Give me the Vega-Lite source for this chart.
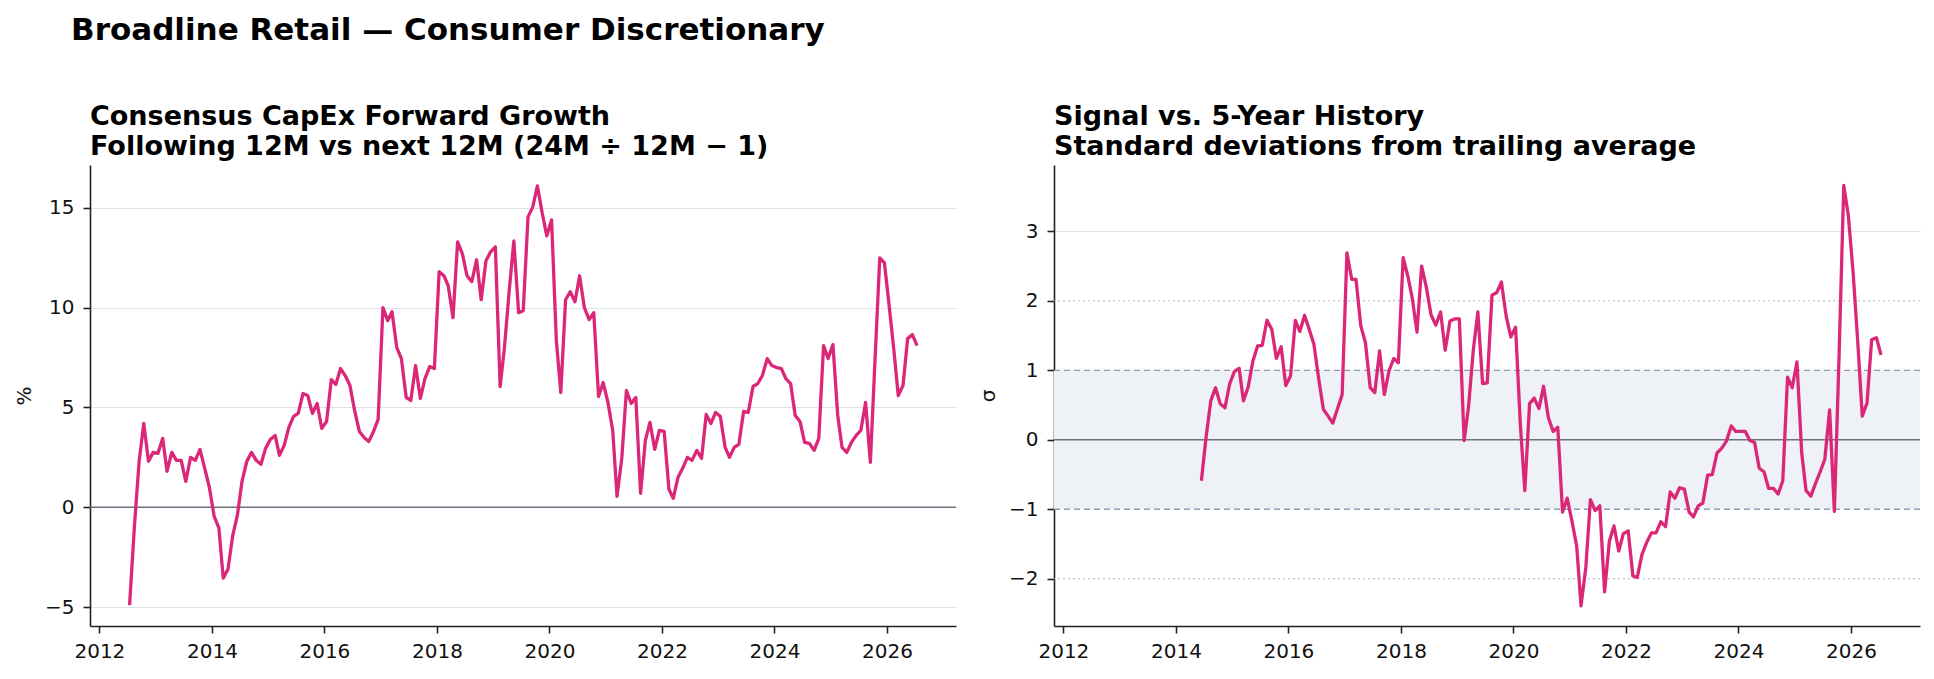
{
  "$schema": "https://vega.github.io/schema/vega-lite/v6.json",
  "background": "white",
  "padding": {"left": 14, "top": 15, "right": 15, "bottom": 5},
  "config": {
    "font": "DejaVu Sans",
    "view": {"stroke": null},
    "axis": {
      "labelFont": "DejaVu Sans",
      "labelFontSize": 20,
      "labelColor": "#111111",
      "titleFont": "DejaVu Sans",
      "titleFontSize": 20,
      "titleFontWeight": "normal",
      "titleColor": "#111111",
      "domainColor": "#222222",
      "domainWidth": 1.6,
      "tickColor": "#222222",
      "tickWidth": 1.6,
      "tickSize": 7,
      "labelPadding": 8,
      "gridColor": "#dfe1e8",
      "gridWidth": 1
    },
    "axisX": {"grid": false},
    "axisY": {"titlePadding": 10, "labelPadding": 9}
  },
  "title": {
    "text": "Broadline Retail — Consumer Discretionary",
    "anchor": "start",
    "frame": "group",
    "fontSize": 31,
    "fontWeight": "bold",
    "color": "#000000",
    "dx": -19,
    "offset": 25,
    "baseline": "bottom"
  },
  "datasets": {
    "capex": [
      {"d": "2012-07-15", "v": -4.9}, {"d": "2012-08-15", "v": -1.0}, {"d": "2012-09-15", "v": 2.3}, {"d": "2012-10-15", "v": 4.2}, {"d": "2012-11-15", "v": 2.3}, {"d": "2012-12-15", "v": 2.75},
      {"d": "2013-01-15", "v": 2.7}, {"d": "2013-02-15", "v": 3.45}, {"d": "2013-03-15", "v": 1.8}, {"d": "2013-04-15", "v": 2.75}, {"d": "2013-05-15", "v": 2.35}, {"d": "2013-06-15", "v": 2.35},
      {"d": "2013-07-15", "v": 1.3}, {"d": "2013-08-15", "v": 2.5}, {"d": "2013-09-15", "v": 2.35}, {"d": "2013-10-15", "v": 2.9}, {"d": "2013-11-15", "v": 1.95}, {"d": "2013-12-15", "v": 1.0},
      {"d": "2014-01-15", "v": -0.45}, {"d": "2014-02-15", "v": -1.05}, {"d": "2014-03-15", "v": -3.55}, {"d": "2014-04-15", "v": -3.1}, {"d": "2014-05-15", "v": -1.45}, {"d": "2014-06-15", "v": -0.4},
      {"d": "2014-07-15", "v": 1.3}, {"d": "2014-08-15", "v": 2.3}, {"d": "2014-09-15", "v": 2.75}, {"d": "2014-10-15", "v": 2.35}, {"d": "2014-11-15", "v": 2.15}, {"d": "2014-12-15", "v": 2.95},
      {"d": "2015-01-15", "v": 3.4}, {"d": "2015-02-15", "v": 3.6}, {"d": "2015-03-15", "v": 2.6}, {"d": "2015-04-15", "v": 3.1}, {"d": "2015-05-15", "v": 4.0}, {"d": "2015-06-15", "v": 4.55},
      {"d": "2015-07-15", "v": 4.7}, {"d": "2015-08-15", "v": 5.7}, {"d": "2015-09-15", "v": 5.6}, {"d": "2015-10-15", "v": 4.7}, {"d": "2015-11-15", "v": 5.2}, {"d": "2015-12-15", "v": 3.95},
      {"d": "2016-01-15", "v": 4.3}, {"d": "2016-02-15", "v": 6.4}, {"d": "2016-03-15", "v": 6.15}, {"d": "2016-04-15", "v": 6.95}, {"d": "2016-05-15", "v": 6.6}, {"d": "2016-06-15", "v": 6.1},
      {"d": "2016-07-15", "v": 4.85}, {"d": "2016-08-15", "v": 3.8}, {"d": "2016-09-15", "v": 3.5}, {"d": "2016-10-15", "v": 3.3}, {"d": "2016-11-15", "v": 3.8}, {"d": "2016-12-15", "v": 4.4},
      {"d": "2017-01-15", "v": 10.0}, {"d": "2017-02-15", "v": 9.35}, {"d": "2017-03-15", "v": 9.8}, {"d": "2017-04-15", "v": 8.0}, {"d": "2017-05-15", "v": 7.45}, {"d": "2017-06-15", "v": 5.5},
      {"d": "2017-07-15", "v": 5.35}, {"d": "2017-08-15", "v": 7.1}, {"d": "2017-09-15", "v": 5.45}, {"d": "2017-10-15", "v": 6.45}, {"d": "2017-11-15", "v": 7.05}, {"d": "2017-12-15", "v": 6.95},
      {"d": "2018-01-15", "v": 11.8}, {"d": "2018-02-15", "v": 11.6}, {"d": "2018-03-15", "v": 11.1}, {"d": "2018-04-15", "v": 9.5}, {"d": "2018-05-15", "v": 13.3}, {"d": "2018-06-15", "v": 12.7},
      {"d": "2018-07-15", "v": 11.6}, {"d": "2018-08-15", "v": 11.3}, {"d": "2018-09-15", "v": 12.4}, {"d": "2018-10-15", "v": 10.4}, {"d": "2018-11-15", "v": 12.35}, {"d": "2018-12-15", "v": 12.8},
      {"d": "2019-01-15", "v": 13.05}, {"d": "2019-02-15", "v": 6.05}, {"d": "2019-03-15", "v": 8.0}, {"d": "2019-04-15", "v": 10.85}, {"d": "2019-05-15", "v": 13.35}, {"d": "2019-06-15", "v": 9.75},
      {"d": "2019-07-15", "v": 9.85}, {"d": "2019-08-15", "v": 14.55}, {"d": "2019-09-15", "v": 15.05}, {"d": "2019-10-15", "v": 16.1}, {"d": "2019-11-15", "v": 14.75}, {"d": "2019-12-15", "v": 13.6},
      {"d": "2020-01-15", "v": 14.4}, {"d": "2020-02-15", "v": 8.35}, {"d": "2020-03-15", "v": 5.75}, {"d": "2020-04-15", "v": 10.4}, {"d": "2020-05-15", "v": 10.8}, {"d": "2020-06-15", "v": 10.3},
      {"d": "2020-07-15", "v": 11.6}, {"d": "2020-08-15", "v": 10.0}, {"d": "2020-09-15", "v": 9.4}, {"d": "2020-10-15", "v": 9.75}, {"d": "2020-11-15", "v": 5.55}, {"d": "2020-12-15", "v": 6.25},
      {"d": "2021-01-15", "v": 5.25}, {"d": "2021-02-15", "v": 3.85}, {"d": "2021-03-15", "v": 0.55}, {"d": "2021-04-15", "v": 2.45}, {"d": "2021-05-15", "v": 5.85}, {"d": "2021-06-15", "v": 5.2},
      {"d": "2021-07-15", "v": 5.5}, {"d": "2021-08-15", "v": 0.7}, {"d": "2021-09-15", "v": 3.35}, {"d": "2021-10-15", "v": 4.25}, {"d": "2021-11-15", "v": 2.9}, {"d": "2021-12-15", "v": 3.85},
      {"d": "2022-01-15", "v": 3.8}, {"d": "2022-02-15", "v": 0.9}, {"d": "2022-03-15", "v": 0.45}, {"d": "2022-04-15", "v": 1.5}, {"d": "2022-05-15", "v": 1.95}, {"d": "2022-06-15", "v": 2.5},
      {"d": "2022-07-15", "v": 2.35}, {"d": "2022-08-15", "v": 2.85}, {"d": "2022-09-15", "v": 2.45}, {"d": "2022-10-15", "v": 4.65}, {"d": "2022-11-15", "v": 4.2}, {"d": "2022-12-15", "v": 4.75},
      {"d": "2023-01-15", "v": 4.55}, {"d": "2023-02-15", "v": 3.0}, {"d": "2023-03-15", "v": 2.5}, {"d": "2023-04-15", "v": 3.0}, {"d": "2023-05-15", "v": 3.15}, {"d": "2023-06-15", "v": 4.8},
      {"d": "2023-07-15", "v": 4.75}, {"d": "2023-08-15", "v": 6.05}, {"d": "2023-09-15", "v": 6.2}, {"d": "2023-10-15", "v": 6.6}, {"d": "2023-11-15", "v": 7.45}, {"d": "2023-12-15", "v": 7.1},
      {"d": "2024-01-15", "v": 7.0}, {"d": "2024-02-15", "v": 6.95}, {"d": "2024-03-15", "v": 6.45}, {"d": "2024-04-15", "v": 6.2}, {"d": "2024-05-15", "v": 4.6}, {"d": "2024-06-15", "v": 4.3},
      {"d": "2024-07-15", "v": 3.25}, {"d": "2024-08-15", "v": 3.2}, {"d": "2024-09-15", "v": 2.85}, {"d": "2024-10-15", "v": 3.45}, {"d": "2024-11-15", "v": 8.1}, {"d": "2024-12-15", "v": 7.45},
      {"d": "2025-01-15", "v": 8.15}, {"d": "2025-02-15", "v": 4.6}, {"d": "2025-03-15", "v": 3.0}, {"d": "2025-04-15", "v": 2.75}, {"d": "2025-05-15", "v": 3.25}, {"d": "2025-06-15", "v": 3.6},
      {"d": "2025-07-15", "v": 3.85}, {"d": "2025-08-15", "v": 5.25}, {"d": "2025-09-15", "v": 2.25}, {"d": "2025-10-15", "v": 7.35}, {"d": "2025-11-15", "v": 12.5}, {"d": "2025-12-15", "v": 12.25},
      {"d": "2026-01-15", "v": 10.1}, {"d": "2026-02-15", "v": 7.85}, {"d": "2026-03-15", "v": 5.6}, {"d": "2026-04-15", "v": 6.1}, {"d": "2026-05-15", "v": 8.45}, {"d": "2026-06-15", "v": 8.65},
      {"d": "2026-07-15", "v": 8.1}
    ],
    "signal": [
      {"d": "2014-06-15", "z": -0.59},
      {"d": "2014-07-15", "z": 0.03}, {"d": "2014-08-15", "z": 0.56}, {"d": "2014-09-15", "z": 0.75}, {"d": "2014-10-15", "z": 0.52}, {"d": "2014-11-15", "z": 0.46}, {"d": "2014-12-15", "z": 0.8},
      {"d": "2015-01-15", "z": 0.98}, {"d": "2015-02-15", "z": 1.03}, {"d": "2015-03-15", "z": 0.56}, {"d": "2015-04-15", "z": 0.76}, {"d": "2015-05-15", "z": 1.13}, {"d": "2015-06-15", "z": 1.35},
      {"d": "2015-07-15", "z": 1.36}, {"d": "2015-08-15", "z": 1.72}, {"d": "2015-09-15", "z": 1.59}, {"d": "2015-10-15", "z": 1.17}, {"d": "2015-11-15", "z": 1.34}, {"d": "2015-12-15", "z": 0.78},
      {"d": "2016-01-15", "z": 0.92}, {"d": "2016-02-15", "z": 1.72}, {"d": "2016-03-15", "z": 1.56}, {"d": "2016-04-15", "z": 1.79}, {"d": "2016-05-15", "z": 1.59}, {"d": "2016-06-15", "z": 1.37},
      {"d": "2016-07-15", "z": 0.89}, {"d": "2016-08-15", "z": 0.44}, {"d": "2016-09-15", "z": 0.34}, {"d": "2016-10-15", "z": 0.24}, {"d": "2016-11-15", "z": 0.45}, {"d": "2016-12-15", "z": 0.65},
      {"d": "2017-01-15", "z": 2.69}, {"d": "2017-02-15", "z": 2.31}, {"d": "2017-03-15", "z": 2.31}, {"d": "2017-04-15", "z": 1.64}, {"d": "2017-05-15", "z": 1.4}, {"d": "2017-06-15", "z": 0.75},
      {"d": "2017-07-15", "z": 0.68}, {"d": "2017-08-15", "z": 1.28}, {"d": "2017-09-15", "z": 0.65}, {"d": "2017-10-15", "z": 0.99}, {"d": "2017-11-15", "z": 1.17}, {"d": "2017-12-15", "z": 1.11},
      {"d": "2018-01-15", "z": 2.62}, {"d": "2018-02-15", "z": 2.35}, {"d": "2018-03-15", "z": 2.04}, {"d": "2018-04-15", "z": 1.55}, {"d": "2018-05-15", "z": 2.5}, {"d": "2018-06-15", "z": 2.19},
      {"d": "2018-07-15", "z": 1.8}, {"d": "2018-08-15", "z": 1.65}, {"d": "2018-09-15", "z": 1.84}, {"d": "2018-10-15", "z": 1.29}, {"d": "2018-11-15", "z": 1.71}, {"d": "2018-12-15", "z": 1.74},
      {"d": "2019-01-15", "z": 1.74}, {"d": "2019-02-15", "z": -0.01}, {"d": "2019-03-15", "z": 0.46}, {"d": "2019-04-15", "z": 1.28}, {"d": "2019-05-15", "z": 1.84}, {"d": "2019-06-15", "z": 0.81},
      {"d": "2019-07-15", "z": 0.82}, {"d": "2019-08-15", "z": 2.08}, {"d": "2019-09-15", "z": 2.12}, {"d": "2019-10-15", "z": 2.27}, {"d": "2019-11-15", "z": 1.78}, {"d": "2019-12-15", "z": 1.48},
      {"d": "2020-01-15", "z": 1.62}, {"d": "2020-02-15", "z": 0.22}, {"d": "2020-03-15", "z": -0.73}, {"d": "2020-04-15", "z": 0.52}, {"d": "2020-05-15", "z": 0.6}, {"d": "2020-06-15", "z": 0.45},
      {"d": "2020-07-15", "z": 0.77}, {"d": "2020-08-15", "z": 0.32}, {"d": "2020-09-15", "z": 0.12}, {"d": "2020-10-15", "z": 0.18}, {"d": "2020-11-15", "z": -1.04}, {"d": "2020-12-15", "z": -0.84},
      {"d": "2021-01-15", "z": -1.17}, {"d": "2021-02-15", "z": -1.53}, {"d": "2021-03-15", "z": -2.39}, {"d": "2021-04-15", "z": -1.84}, {"d": "2021-05-15", "z": -0.86}, {"d": "2021-06-15", "z": -1.02},
      {"d": "2021-07-15", "z": -0.95}, {"d": "2021-08-15", "z": -2.19}, {"d": "2021-09-15", "z": -1.46}, {"d": "2021-10-15", "z": -1.24}, {"d": "2021-11-15", "z": -1.6}, {"d": "2021-12-15", "z": -1.35},
      {"d": "2022-01-15", "z": -1.31}, {"d": "2022-02-15", "z": -1.96}, {"d": "2022-03-15", "z": -1.98}, {"d": "2022-04-15", "z": -1.65}, {"d": "2022-05-15", "z": -1.48}, {"d": "2022-06-15", "z": -1.34},
      {"d": "2022-07-15", "z": -1.34}, {"d": "2022-08-15", "z": -1.18}, {"d": "2022-09-15", "z": -1.25}, {"d": "2022-10-15", "z": -0.75}, {"d": "2022-11-15", "z": -0.84}, {"d": "2022-12-15", "z": -0.69},
      {"d": "2023-01-15", "z": -0.71}, {"d": "2023-02-15", "z": -1.04}, {"d": "2023-03-15", "z": -1.11}, {"d": "2023-04-15", "z": -0.95}, {"d": "2023-05-15", "z": -0.91}, {"d": "2023-06-15", "z": -0.51},
      {"d": "2023-07-15", "z": -0.5}, {"d": "2023-08-15", "z": -0.19}, {"d": "2023-09-15", "z": -0.12}, {"d": "2023-10-15", "z": -0.02}, {"d": "2023-11-15", "z": 0.2}, {"d": "2023-12-15", "z": 0.12},
      {"d": "2024-01-15", "z": 0.12}, {"d": "2024-02-15", "z": 0.12}, {"d": "2024-03-15", "z": -0.01}, {"d": "2024-04-15", "z": -0.04}, {"d": "2024-05-15", "z": -0.41}, {"d": "2024-06-15", "z": -0.46},
      {"d": "2024-07-15", "z": -0.7}, {"d": "2024-08-15", "z": -0.7}, {"d": "2024-09-15", "z": -0.78}, {"d": "2024-10-15", "z": -0.59}, {"d": "2024-11-15", "z": 0.9}, {"d": "2024-12-15", "z": 0.75},
      {"d": "2025-01-15", "z": 1.12}, {"d": "2025-02-15", "z": -0.19}, {"d": "2025-03-15", "z": -0.73}, {"d": "2025-04-15", "z": -0.81}, {"d": "2025-05-15", "z": -0.63}, {"d": "2025-06-15", "z": -0.46},
      {"d": "2025-07-15", "z": -0.28}, {"d": "2025-08-15", "z": 0.43}, {"d": "2025-09-15", "z": -1.03}, {"d": "2025-10-15", "z": 1.17}, {"d": "2025-11-15", "z": 3.66}, {"d": "2025-12-15", "z": 3.22},
      {"d": "2026-01-15", "z": 2.4}, {"d": "2026-02-15", "z": 1.37}, {"d": "2026-03-15", "z": 0.34}, {"d": "2026-04-15", "z": 0.53}, {"d": "2026-05-15", "z": 1.44}, {"d": "2026-06-15", "z": 1.47},
      {"d": "2026-07-15", "z": 1.22}
    ]
  },
  "spacing": 98,
  "bounds": "flush",
  "hconcat": [
    {
      "width": 866,
      "height": 461,
      "title": {
        "text": ["Consensus CapEx Forward Growth", "Following 12M vs next 12M (24M ÷ 12M − 1)"],
        "anchor": "start",
        "frame": "group",
        "fontSize": 27,
        "lineHeight": 30,
        "fontWeight": "bold",
        "color": "#000000",
        "baseline": "bottom",
        "offset": -23
      },
      "layer": [
        {
          "data": {"values": [{}]},
          "mark": {"type": "rule", "color": "#6b7280", "strokeWidth": 1.6},
          "encoding": {"y": {"datum": 0}}
        },
        {
          "data": {"name": "capex"},
          "mark": {"type": "line", "color": "#db2777", "strokeWidth": 3.3, "strokeJoin": "round"},
          "encoding": {
            "x": {
              "field": "d",
              "type": "temporal",
              "scale": {"type": "utc", "domain": [{"year": 2011, "month": 11, "date": 1, "utc": true}, {"year": 2027, "month": 3, "date": 25, "utc": true}]},
              "axis": {"title": null, "format": "%Y", "tickCount": {"interval": "year", "step": 2}}
            },
            "y": {
              "field": "v",
              "type": "quantitative",
              "scale": {"domain": [-5.95, 17.15], "nice": false, "zero": false},
              "axis": {"title": "%", "values": [-5, 0, 5, 10, 15], "format": "d", "grid": true}
            }
          }
        }
      ]
    },
    {
      "width": 866,
      "height": 461,
      "title": {
        "text": ["Signal vs. 5-Year History", "Standard deviations from trailing average"],
        "anchor": "start",
        "frame": "group",
        "fontSize": 27,
        "lineHeight": 30,
        "fontWeight": "bold",
        "color": "#000000",
        "baseline": "bottom",
        "offset": -23
      },
      "layer": [
        {
          "data": {"values": [{}]},
          "mark": {"type": "rect", "color": "#eef2f7"},
          "encoding": {"x": {"value": 0}, "x2": {"value": "width"}, "y": {"datum": -1}, "y2": {"datum": 1}}
        },
        {
          "data": {"values": [{}]},
          "mark": {"type": "rule", "color": "#a9b4c7", "strokeWidth": 1, "strokeDash": [2, 3]},
          "encoding": {"y": {"datum": 2}}
        },
        {
          "data": {"values": [{}]},
          "mark": {"type": "rule", "color": "#a9b4c7", "strokeWidth": 1, "strokeDash": [2, 3]},
          "encoding": {"y": {"datum": -2}}
        },
        {
          "data": {"values": [{}]},
          "mark": {"type": "rule", "color": "#8d9cb4", "strokeWidth": 1.3, "strokeDash": [6, 4]},
          "encoding": {"y": {"datum": 1}}
        },
        {
          "data": {"values": [{}]},
          "mark": {"type": "rule", "color": "#8d9cb4", "strokeWidth": 1.3, "strokeDash": [6, 4]},
          "encoding": {"y": {"datum": -1}}
        },
        {
          "data": {"values": [{}]},
          "mark": {"type": "rule", "color": "#6b7280", "strokeWidth": 1.6},
          "encoding": {"y": {"datum": 0}}
        },
        {
          "data": {"name": "signal"},
          "mark": {"type": "line", "color": "#db2777", "strokeWidth": 3.3, "strokeJoin": "round"},
          "encoding": {
            "x": {
              "field": "d",
              "type": "temporal",
              "scale": {"type": "utc", "domain": [{"year": 2011, "month": 11, "date": 1, "utc": true}, {"year": 2027, "month": 3, "date": 25, "utc": true}]},
              "axis": {"title": null, "format": "%Y", "tickCount": {"interval": "year", "step": 2}}
            },
            "y": {
              "field": "z",
              "type": "quantitative",
              "scale": {"domain": [-2.68, 3.955], "nice": false, "zero": false},
              "axis": {
                "title": "σ",
                "values": [-2, -1, 0, 1, 2, 3],
                "format": "d",
                "grid": true,
                "gridOpacity": {"condition": {"test": "datum.value != 3", "value": 0}, "value": 1}
              }
            }
          }
        }
      ]
    }
  ]
}
